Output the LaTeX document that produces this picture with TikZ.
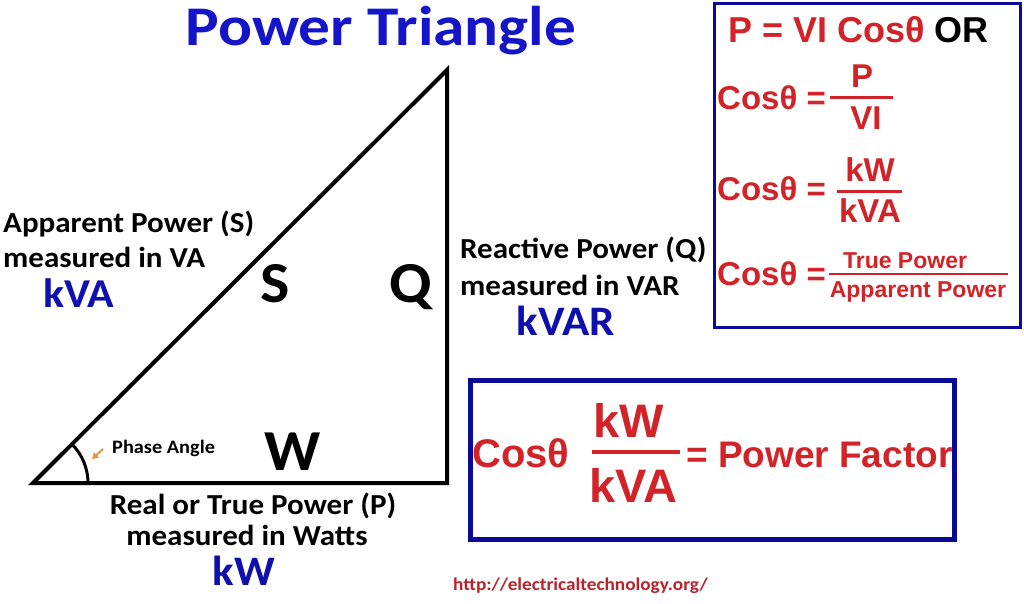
\documentclass[tikz,border=0pt]{standalone}
\usepackage{fontspec}
\setmainfont{Carlito}[FakeStretch=1.07]
\newfontfamily\ttl{Carlito}[FakeStretch=1.13]
\newfontfamily\ari{Liberation Sans}
\usetikzlibrary{arrows.meta}
\definecolor{tblue}{RGB}{20,20,200}
\definecolor{lblue}{RGB}{15,15,175}
\definecolor{bblue}{RGB}{10,10,150}
\definecolor{fred}{RGB}{210,35,40}
\definecolor{ured}{RGB}{185,35,45}
\definecolor{orng}{RGB}{228,150,70}
\newcommand{\fs}[1]{\fontsize{#1}{#1}\selectfont}
\begin{document}
\begin{tikzpicture}[x=1pt,y=-1pt,
  lab/.style={font=\bfseries\fs{29}, inner sep=0pt, anchor=base west},
  labc/.style={font=\bfseries\fs{29}, inner sep=0pt, anchor=base},
  unit/.style={font=\bfseries\fs{42}, text=lblue, inner sep=0pt, anchor=base},
  big/.style={font=\bfseries\fs{58}, inner sep=0pt, anchor=base},
  frm/.style={font=\ari\bfseries\fs{33}, text=fred, inner sep=0pt, anchor=base},
  frs/.style={font=\ari\bfseries\fs{23}, text=fred, inner sep=0pt, anchor=base},
  frb/.style={font=\ari\bfseries\fs{47}, text=fred, inner sep=0pt, anchor=base},
  bar/.style={draw=fred, line width=3pt},
  box/.style={draw=bblue, line width=3.5pt}
]
\useasboundingbox[fill=white] (0,0) rectangle (1024,604);
% title
\node[font=\ttl\bfseries\fs{56}, text=tblue, inner sep=0pt, anchor=base] (title) at (381,46) {Power Triangle};
% triangle
\coordinate (A) at (33,483);
\coordinate (B) at (447,483);
\coordinate (C) at (447,70);
\draw[line width=4pt, line join=miter] (A) -- (B) -- (C) -- cycle;
\draw[line width=3pt] (A) ++(55,0) arc[start angle=0, end angle=-45, radius=55];
\coordinate (pa1) at (103,449);
\coordinate (pa2) at (92,459);
\draw[orng, line width=2pt, -{Triangle[length=6pt,width=7pt]}] (pa1) -- (pa2);
\node[font=\bfseries\fs{19}, inner sep=0pt, anchor=base west] (pa) at (112,453) {Phase Angle};
\node[big] (S) at (275,302) {S};
\node[big] (Q) at (411,302) {Q};
\node[big] (W) at (293,470) {W};
% labels
\node[lab] (ap) at (3,232) {Apparent Power (S)};
\node[lab] (ap2) at (3,267) {measured in VA};
\node[unit, anchor=base west, font=\bfseries\fs{41}] (kva) at (43,307) {kVA};
\node[lab] (rp) at (460,258) {Reactive Power (Q)};
\node[lab] (rp2) at (460,295) {measured in VAR};
\node[unit] (kvar) at (566,335) {kVAR};
\node[labc] (tp) at (253,514) {Real or True Power (P)};
\node[labc] (tp2) at (247,545) {measured in Watts};
\node[unit] (kw) at (244,585) {kW};
% top-right box
\draw[box, line width=3pt] (714,4) rectangle (1020,327);
\node[frm, font=\ari\bfseries\fs{36}, anchor=base west] (l1) at (728,43) {P = VI Cosθ \textcolor{black}{OR}};
\node[frm, anchor=base west] (c1) at (717,110) {Cosθ =};
\coordinate (b1a) at (830,98); \coordinate (b1b) at (893,98);
\draw[bar] (b1a) -- (b1b);
\node[frm] (n1) at (862,88) {P};
\node[frm] (d1) at (866,130) {VI};
\node[frm, anchor=base west] (c2) at (717,200) {Cosθ =};
\coordinate (b2a) at (837,191); \coordinate (b2b) at (902,191);
\draw[bar] (b2a) -- (b2b);
\node[frm] (n2) at (870,182) {kW};
\node[frm] (d2) at (870,222) {kVA};
\node[frm, anchor=base west] (c3) at (717,285) {Cosθ =};
\coordinate (b3a) at (829,274); \coordinate (b3b) at (1008,274);
\draw[bar, line width=2.5pt] (b3a) -- (b3b);
\node[frs] (n3) at (905,268) {True Power};
\node[frs] (d3) at (918,297) {Apparent Power};
% bottom box
\draw[box, line width=4.5pt] (470.5,380.5) rectangle (954.5,539.5);
\node[frb, font=\ari\bfseries\fs{40}, anchor=base west] (c4) at (472,467) {Cosθ};
\coordinate (b4a) at (592,452); \coordinate (b4b) at (680,452);
\draw[bar, line width=3.5pt] (b4a) -- (b4b);
\node[frb] (n4) at (629,437) {kW};
\node[frb] (d4) at (633,502) {kVA};
\node[frb, font=\ari\bfseries\fs{37}, anchor=base west] (pf) at (686,467) {= Power Factor};
% url
\node[font=\bfseries\fs{18}, text=ured, inner sep=0pt, anchor=base west] (url) at (453,590) {http://electricaltechnology.org/};
\end{tikzpicture}
\end{document}
